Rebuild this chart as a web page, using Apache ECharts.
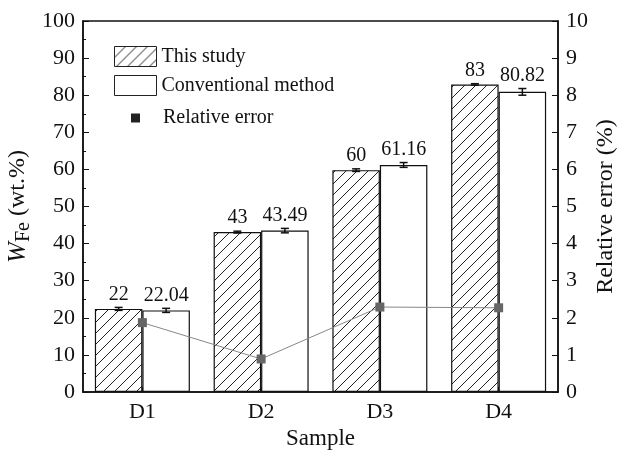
<!DOCTYPE html>
<html>
<head>
<meta charset="utf-8">
<script src="https://cdn.jsdelivr.net/npm/echarts@6/dist/echarts.min.js"></script>
<style>
  html, body { margin: 0; padding: 0; background: #fff; }
  #main { width: 622px; height: 454px; }
</style>
</head>
<body>
<div id="main"></div>
<script>
var samples = ['D1', 'D2', 'D3', 'D4'];
var thisStudy = [22.4, 43.1, 59.8, 82.9];
var thisStudyErr = [0.4, 0.25, 0.35, 0.2];
var thisStudyLabels = ['22', '43', '60', '83'];
var conventional = [22.0, 43.5, 61.2, 80.9];
var conventionalErr = [0.55, 0.6, 0.65, 0.9];
var conventionalLabels = ['22.04', '43.49', '61.16', '80.82'];
var relError = [1.87, 0.89, 2.29, 2.27];

var serif = '"Liberation Serif", "Times New Roman", serif';

// diagonal hatch for "This study"
var hatch = document.createElement('canvas');
hatch.width = 11;
hatch.height = 11;
var ctx = hatch.getContext('2d');
ctx.fillStyle = '#fff';
ctx.fillRect(0, 0, 11, 11);
ctx.strokeStyle = '#222';
ctx.lineWidth = 1;
ctx.beginPath();
ctx.moveTo(-1, 12); ctx.lineTo(12, -1);
ctx.moveTo(-1, 1); ctx.lineTo(1, -1);
ctx.moveTo(10, 12); ctx.lineTo(12, 10);
ctx.stroke();

function errData(vals, errs) {
    return vals.map(function (v, i) { return [i, v, errs[i]]; });
}

function errRender(offset, labels) {
    return function (params, api) {
        var x = api.value(0), v = api.value(1), e = api.value(2);
        var band = api.size([1, 0])[0];
        var cx = api.coord([x, v])[0] + offset * band;
        var top = api.coord([x, v + e])[1];
        var bot = api.coord([x, v - e])[1];
        var hw = 4;
        var st = { stroke: '#111', lineWidth: 1.5 };
        return {
            type: 'group',
            children: [
                { type: 'line', shape: { x1: cx, y1: top, x2: cx, y2: bot }, style: st },
                { type: 'line', shape: { x1: cx - hw, y1: top, x2: cx + hw, y2: top }, style: st },
                { type: 'line', shape: { x1: cx - hw, y1: bot, x2: cx + hw, y2: bot }, style: st },
                {
                    type: 'text',
                    style: {
                        text: labels[params.dataIndex],
                        x: cx, y: top - 3,
                        align: 'center', verticalAlign: 'bottom',
                        font: '20px ' + serif, fill: '#111'
                    }
                }
            ]
        };
    };
}

var chart = echarts.init(document.getElementById('main'));
var option = {
    backgroundColor: '#fff',
    animation: false,
    textStyle: { fontFamily: serif },
    grid: {
        left: 83, right: 64, top: 21, bottom: 62,
        containLabel: false,
        outerBoundsMode: 'none',
        show: true, borderColor: '#111', borderWidth: 1.5
    },
    legend: [
        {
            orient: 'vertical',
            left: 109, top: 41,
            itemWidth: 42, itemHeight: 20, itemGap: 8,
            icon: 'rect',
            itemStyle: { borderColor: '#222', borderWidth: 1 },
            textStyle: { fontFamily: serif, fontSize: 20, color: '#111' },
            data: ['This study', 'Conventional method']
        },
        {
            left: 126, top: 103,
            itemWidth: 9, itemHeight: 9,
            icon: 'rect',
            textStyle: { fontFamily: serif, fontSize: 20, color: '#111', padding: [0, 0, 0, 18] },
            data: [{ name: 'Relative error', itemStyle: { color: '#222', borderWidth: 0 } }]
        }
    ],
    xAxis: {
        type: 'category',
        data: samples,
        name: 'Sample',
        nameLocation: 'middle',
        nameGap: 33,
        nameTextStyle: { fontFamily: serif, fontSize: 23, color: '#111' },
        axisLine: { lineStyle: { color: '#111', width: 1.5 } },
        axisTick: { show: true, inside: true, alignWithLabel: true, length: 5, lineStyle: { color: '#111' } },
        axisLabel: { fontFamily: serif, fontSize: 22, color: '#111', margin: 9 },
        splitLine: { show: false }
    },
    yAxis: [
        {
            type: 'value',
            min: 0, max: 100, interval: 10,
            name: '{i|W}{s|Fe}{n| (wt.%)}',
            nameLocation: 'middle',
            nameGap: 49,
            nameMoveOverlap: false,
            nameTextStyle: {
                rich: {
                    i: { fontFamily: serif, fontSize: 25, fontStyle: 'italic', color: '#111' },
                    s: { fontFamily: serif, fontSize: 20, color: '#111', verticalAlign: 'bottom', padding: [12, 0, 0, 0] },
                    n: { fontFamily: serif, fontSize: 24, color: '#111' }
                }
            },
            axisLine: { show: true, lineStyle: { color: '#111', width: 1.5 } },
            axisTick: { show: true, inside: true, length: 6, lineStyle: { color: '#111' } },
            minorTick: { show: true, splitNumber: 2, length: 3, lineStyle: { color: '#111' } },
            axisLabel: { fontFamily: serif, fontSize: 22, color: '#111', margin: 8 },
            splitLine: { show: false }
        },
        {
            type: 'value',
            min: 0, max: 10, interval: 1,
            name: 'Relative error (%)',
            nameLocation: 'middle',
            nameGap: 36,
            nameMoveOverlap: false,
            nameTextStyle: { fontFamily: serif, fontSize: 24, color: '#111' },
            axisLine: { show: true, lineStyle: { color: '#111', width: 1.5 } },
            axisTick: { show: true, inside: true, length: 6, lineStyle: { color: '#111' } },
            axisLabel: { fontFamily: serif, fontSize: 22, color: '#111', margin: 8 },
            splitLine: { show: false }
        }
    ],
    series: [
        {
            name: 'This study',
            type: 'bar',
            data: thisStudy,
            barGap: '0%',
            barCategoryGap: '20%',
            itemStyle: { color: { image: hatch, repeat: 'repeat' }, borderColor: '#111', borderWidth: 1.2 }
        },
        {
            name: 'Conventional method',
            type: 'bar',
            data: conventional,
            itemStyle: { color: '#fff', borderColor: '#111', borderWidth: 1.2 }
        },
        {
            name: 'errThis',
            type: 'custom',
            renderItem: errRender(-0.2, thisStudyLabels),
            data: errData(thisStudy, thisStudyErr),
            encode: { x: 0, y: 1 },
            z: 5
        },
        {
            name: 'errConv',
            type: 'custom',
            renderItem: errRender(0.2, conventionalLabels),
            data: errData(conventional, conventionalErr),
            encode: { x: 0, y: 1 },
            z: 5
        },
        {
            name: 'Relative error',
            type: 'line',
            yAxisIndex: 1,
            data: relError,
            symbol: 'rect',
            symbolSize: 9,
            itemStyle: { color: '#666' },
            lineStyle: { color: '#888', width: 1 },
            z: 6
        }
    ]
};
chart.setOption(option);
</script>
</body>
</html>
